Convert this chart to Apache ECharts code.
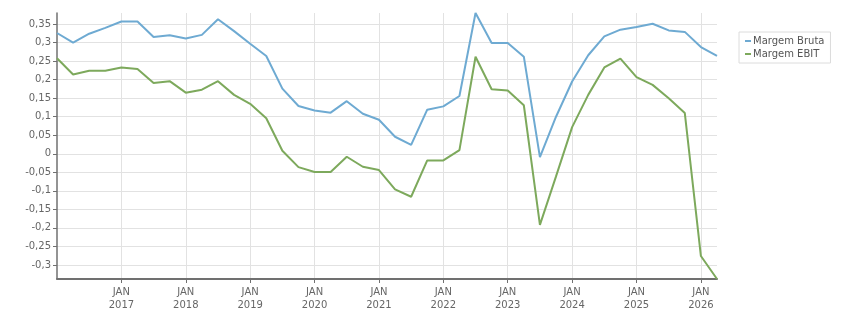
<!DOCTYPE html>
<html>
<head>
<meta charset="utf-8">
<script src="https://cdn.jsdelivr.net/npm/echarts@6/dist/echarts.min.js"></script>
<style>
  html, body { margin: 0; padding: 0; background: #fff; }
  #chart { width: 851px; height: 313px; }
</style>
</head>
<body>
<div id="chart"></div>
<script>
// quarters, first one is Jan 2016
const quarters = [
  "2016-01", "2016-04", "2016-07", "2016-10",
  "2017-01", "2017-04", "2017-07", "2017-10",
  "2018-01", "2018-04", "2018-07", "2018-10",
  "2019-01", "2019-04", "2019-07", "2019-10",
  "2020-01", "2020-04", "2020-07", "2020-10",
  "2021-01", "2021-04", "2021-07", "2021-10",
  "2022-01", "2022-04", "2022-07", "2022-10",
  "2023-01", "2023-04", "2023-07", "2023-10",
  "2024-01", "2024-04", "2024-07", "2024-10",
  "2025-01", "2025-04", "2025-07", "2025-10",
  "2026-01", "2026-04"
];
const margemBruta = [
  0.326, 0.300, 0.324, 0.340,
  0.357, 0.357, 0.315, 0.320,
  0.311, 0.321, 0.363, 0.331,
  0.297, 0.264, 0.176, 0.129,
  0.117, 0.111, 0.142, 0.108,
  0.092, 0.046, 0.024, 0.119,
  0.128, 0.156, 0.380, 0.299,
  0.299, 0.262, -0.009, 0.100,
  0.195, 0.266, 0.317, 0.335,
  0.342, 0.351, 0.333, 0.329,
  0.288, 0.264
];
const margemEbit = [
  0.258, 0.214, 0.224, 0.224,
  0.233, 0.229, 0.191, 0.196,
  0.165, 0.173, 0.196, 0.159,
  0.135, 0.096, 0.008, -0.036,
  -0.049, -0.049, -0.008, -0.035,
  -0.044, -0.096, -0.116, -0.018,
  -0.018, 0.010, 0.262, 0.174,
  0.171, 0.131, -0.192, -0.061,
  0.072, 0.159, 0.233, 0.257,
  0.207, 0.186, 0.150, 0.110,
  -0.276, -0.338
];
const yearTicks = [2017, 2018, 2019, 2020, 2021, 2022, 2023, 2024, 2025, 2026];
const yTicks = [-0.3, -0.25, -0.2, -0.15, -0.1, -0.05, 0, 0.05, 0.1, 0.15, 0.2, 0.25, 0.3, 0.35];

function toYear(q) {
  let p = q.split("-");
  return Number(p[0]) + (Number(p[1]) - 1) / 12;
}
function pairs(vals) {
  return quarters.map((q, i) => [toYear(q), vals[i]]);
}

let chart = echarts.init(document.getElementById("chart"));
let axisColor = "#707070";
let labelColor = "#666";
let option = {
  animation: false,
  textStyle: { fontFamily: "DejaVu Sans" },
  color: ["#6eaad2", "#7da95c"],
  grid: { left: 57, right: 134, top: 13, bottom: 34 },
  legend: {
    orient: "vertical",
    left: 739,
    top: 32,
    padding: [4, 6, 4, 6],
    itemGap: 3,
    itemWidth: 6,
    itemHeight: 2,
    icon: "rect",
    borderColor: "#dcdcdc",
    borderWidth: 1,
    textStyle: { fontSize: 10, color: "#555", padding: [0, 0, 0, -3] },
    data: ["Margem Bruta", "Margem EBIT"]
  },
  xAxis: {
    type: "value",
    min: 2016,
    max: 2026.25,
    interval: 1,
    axisLine: { onZero: false, lineStyle: { color: axisColor, width: 2 } },
    axisTick: { customValues: yearTicks, length: 4, lineStyle: { color: axisColor } },
    axisLabel: {
      customValues: yearTicks,
      color: labelColor,
      fontSize: 10,
      lineHeight: 13,
      margin: 7,
      formatter: function(v) {
        return "JAN\n" + v;
      }
    },
    splitLine: { show: true, lineStyle: { color: "#e2e2e2" } }
  },
  yAxis: {
    type: "value",
    min: -0.338,
    max: 0.38,
    splitNumber: 14,
    axisLine: { show: true, onZero: false, lineStyle: { color: axisColor, width: 1.5 } },
    axisTick: { show: true, customValues: yTicks, length: 4, lineStyle: { color: axisColor } },
    axisLabel: {
      customValues: yTicks,
      color: labelColor,
      fontSize: 10,
      margin: 6,
      formatter: function(v) {
        return String(+v.toFixed(2)).replace(".", ",");
      }
    },
    splitLine: { show: true, lineStyle: { color: "#e2e2e2" } }
  },
  series: [
    {
      name: "Margem Bruta",
      type: "line",
      showSymbol: false,
      lineStyle: { width: 2 },
      data: pairs(margemBruta)
    },
    {
      name: "Margem EBIT",
      type: "line",
      showSymbol: false,
      lineStyle: { width: 2 },
      data: pairs(margemEbit)
    }
  ]
};
chart.setOption(option);
</script>
</body>
</html>
